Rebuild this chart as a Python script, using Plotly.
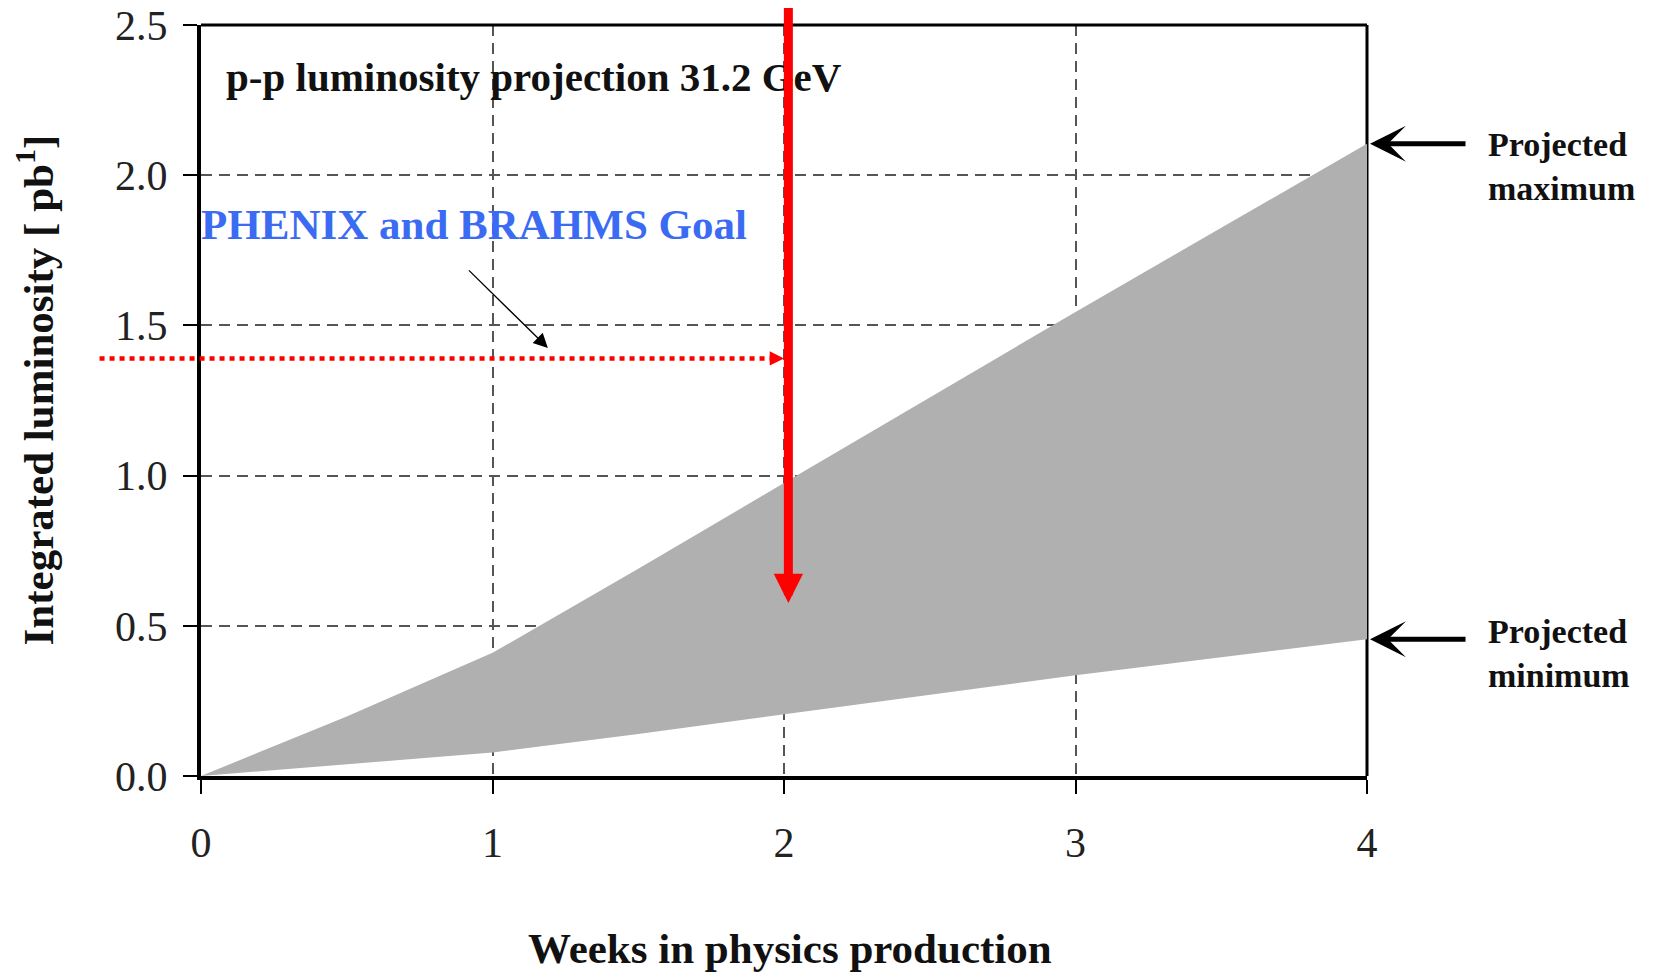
import plotly.graph_objects as go

# ---- data ----
WEEKS = [0, 0.5, 1, 1.5, 2, 2.5, 3, 3.5, 4]
LUMI_MAX = [0, 0.198, 0.41, 0.69, 0.975, 1.26, 1.545, 1.825, 2.105]
LUMI_MIN = [0, 0.04, 0.078, 0.14, 0.205, 0.27, 0.335, 0.395, 0.455]
X_TICKS = [0, 1, 2, 3, 4]
Y_TICKS = [0.0, 0.5, 1.0, 1.5, 2.0, 2.5]
Y_TICK_LABELS = ["0.0", "0.5", "1.0", "1.5", "2.0", "2.5"]

GOAL_LUMI = 1.39        # PHENIX / BRAHMS goal
GOAL_WEEK = 2.0
RED_ARROW_WEEK = 2.015
RED_ARROW_TIP = 0.576

SERIF = "Liberation Serif"
GRAY = "#b0b0b0"
BLUE = "#3b6bf2"

fig = go.Figure()
fig.add_trace(go.Scatter(x=WEEKS, y=LUMI_MIN, mode="lines",
                         line=dict(width=0, color=GRAY), showlegend=False,
                         hoverinfo="skip"))
fig.add_trace(go.Scatter(x=WEEKS, y=LUMI_MAX, mode="lines", fill="tonexty",
                         fillcolor=GRAY, line=dict(width=0, color=GRAY),
                         showlegend=False, hoverinfo="skip"))

grid = dict(showgrid=True, gridcolor="#555555", gridwidth=1.5,
            griddash="11px,7px", zeroline=False, showline=True,
            linecolor="black", ticks="outside", ticklen=14, tickwidth=2,
            tickcolor="black", automargin=False, ticklabeloverflow="allow",
            tickfont=dict(family=SERIF, size=42, color="#222222"))

fig.update_xaxes(range=[0, 4], tickvals=X_TICKS, linewidth=4,
                 ticklabelstandoff=13, **grid)
fig.update_yaxes(range=[0, 2.5], tickvals=Y_TICKS, ticktext=Y_TICK_LABELS,
                 linewidth=4, ticklabelstandoff=7, **grid)

shapes = [
    # top border
    dict(type="line", xref="paper", yref="paper", x0=0, x1=1, y0=1, y1=1,
         line=dict(color="black", width=3), layer="above"),
    # right border (under the gray band)
    dict(type="line", xref="paper", yref="paper", x0=1, x1=1, y0=0, y1=1,
         line=dict(color="black", width=3), layer="below"),
    # red dotted goal line
    dict(type="line", xref="paper", yref="y", x0=-0.087, x1=GOAL_WEEK / 4 - 0.008,
         y0=GOAL_LUMI, y1=GOAL_LUMI,
         line=dict(color="#ff0000", width=4.5, dash="5px,5px"), layer="above"),
]

annotations = [
    dict(text="<b>p-p luminosity projection 31.2 GeV</b>", xref="paper",
         yref="paper", x=0.0197, y=0.931, xanchor="left", yanchor="middle",
         showarrow=False, font=dict(family=SERIF, size=41, color="#111111")),
    dict(text="<b>PHENIX and BRAHMS Goal</b>", xref="paper", yref="paper",
         x=-0.002, y=0.734, xanchor="left", yanchor="middle", showarrow=False,
         font=dict(family=SERIF, size=43, color=BLUE)),
    # thin black pointer to goal line
    dict(text="", x=1.19, y=1.425, ax=0.914, ay=1.688, xref="x", yref="y",
         axref="x", ayref="y", showarrow=True, arrowhead=2, arrowsize=2.2,
         arrowwidth=1.3, arrowcolor="black", standoff=0),
    # arrowhead of goal line
    dict(text="", x=GOAL_WEEK, y=GOAL_LUMI, ax=-12, ay=0, xref="x", yref="y",
         showarrow=True, arrowhead=2, arrowsize=1.1, arrowwidth=2.6,
         arrowcolor="#ff0000", standoff=0),
    # thick red vertical arrow
    dict(text="", x=RED_ARROW_WEEK, y=RED_ARROW_TIP, ax=RED_ARROW_WEEK, ay=2.62,
         xref="x", yref="y", axref="x", ayref="y", showarrow=True,
         arrowhead=2, arrowsize=0.65, arrowwidth=9, arrowcolor="#ff0000",
         standoff=0),
    # projected max / min pointers
    dict(text="", x=WEEKS[-1], y=LUMI_MAX[-1], ax=100, ay=0, xref="x",
         yref="y", showarrow=True, arrowhead=3, arrowsize=1.2, arrowwidth=5,
         arrowcolor="black", standoff=3),
    dict(text="", x=WEEKS[-1], y=LUMI_MIN[-1], ax=100, ay=0, xref="x",
         yref="y", showarrow=True, arrowhead=3, arrowsize=1.2, arrowwidth=5,
         arrowcolor="black", standoff=3),
    dict(text="<b>Projected<br>maximum</b>", xref="paper", yref="y",
         x=1.102, y=2.03, xanchor="left", yanchor="middle", align="left",
         showarrow=False, font=dict(family=SERIF, size=34, color="#111111")),
    dict(text="<b>Projected<br>minimum</b>", xref="paper", yref="y",
         x=1.102, y=0.408, xanchor="left", yanchor="middle", align="left",
         showarrow=False, font=dict(family=SERIF, size=34, color="#111111")),
    # axis titles
    dict(text="<b>Weeks in physics production</b>", xref="paper",
         yref="paper", x=0.505, y=-0.230, xanchor="center", yanchor="middle",
         showarrow=False, font=dict(family=SERIF, size=43, color="#111111")),
    dict(text="<b>Integrated luminosity [ pb<sup>1</sup>]</b>", xref="paper",
         yref="paper", x=-0.142, y=0.514, xanchor="center",
         yanchor="middle", textangle=-90, showarrow=False,
         font=dict(family=SERIF, size=43, color="#111111")),
]

# the page body adds an 8 px offset, so the figure is 8 px smaller and the
# left/top margins are 8 px smaller to keep the plot where the reference has it
fig.update_layout(width=1645, height=972,
                  margin=dict(l=193, r=286, t=17, b=204, autoexpand=False),
                  plot_bgcolor="white", paper_bgcolor="white",
                  shapes=shapes, annotations=annotations, showlegend=False)

fig.write_html("out.html")
